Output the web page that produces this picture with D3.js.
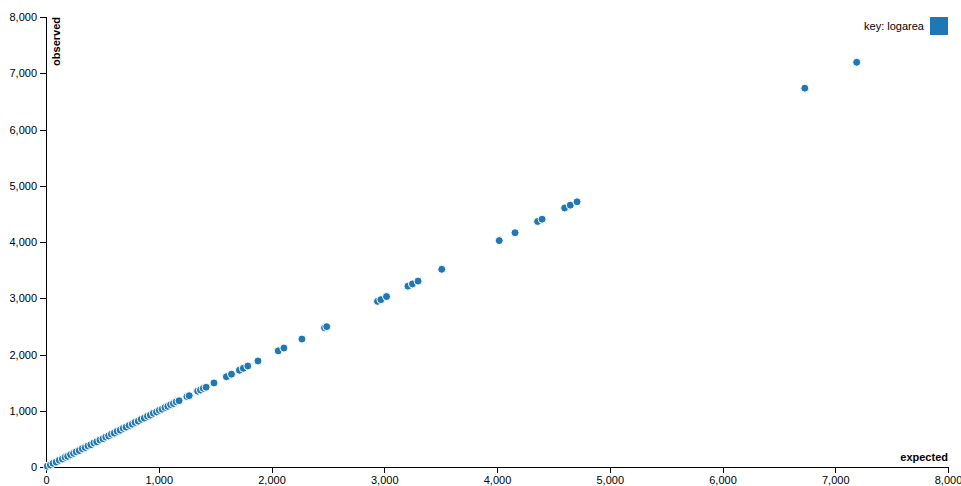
<!DOCTYPE html>
<html>
<head>
<meta charset="utf-8">
<script src="https://cdn.jsdelivr.net/npm/d3@7"></script>
<style>
  body { margin: 0; background: #fff; font: 11px "Liberation Sans", Arial, sans-serif; }
  .axis path, .axis line { fill: none; stroke: #000; shape-rendering: crispEdges; }
  .axis text { font: 11px "Liberation Sans", Arial, sans-serif; fill: #000; }
  .axis text.label { font-weight: bold; }
  .dot { stroke: #fff; stroke-width: 1; }
</style>
</head>
<body>
<svg id="chart" width="961" height="486"></svg>
<script>
// expected vs observed counts, one point per record
const expected = [
  12, 38, 62, 90, 118, 145, 170, 192, 218, 245, 268, 295, 322, 348, 372, 398,
  425, 450, 478, 505, 530, 555, 580, 605, 632, 658, 685, 710, 738, 765, 790,
  818, 845, 872, 900, 925, 952, 980, 1005, 1030, 1055, 1080, 1105, 1130, 1155,
  1180, 1250, 1270, 1345, 1370, 1395, 1420, 1490, 1600, 1645, 1715, 1750, 1790,
  1880, 2060, 2110, 2270, 2470, 2490, 2940, 2970, 3020, 3210, 3250, 3300, 3510,
  4020, 4160, 4360, 4400, 4600, 4650, 4710, 6730, 7190
];
const observed = [
  15, 36, 65, 88, 120, 142, 172, 190, 220, 243, 270, 292, 325, 346, 375, 396,
  428, 448, 480, 502, 532, 553, 583, 602, 635, 655, 688, 708, 740, 762, 793,
  815, 848, 870, 902, 922, 955, 978, 1008, 1028, 1058, 1078, 1108, 1128, 1158,
  1178, 1252, 1268, 1348, 1368, 1398, 1418, 1495, 1605, 1650, 1720, 1755, 1795,
  1885, 2065, 2115, 2275, 2475, 2495, 2945, 2975, 3030, 3215, 3255, 3305, 3515,
  4025, 4165, 4365, 4405, 4605, 4655, 4715, 6735, 7195
];
const seriesKeys = ["logarea"];
const tickValues = [0, 1000, 2000, 3000, 4000, 5000, 6000, 7000, 8000];

const margin = { top: 17, right: 13, bottom: 19, left: 46 };
const svg = d3.select("#chart");
const width = +svg.attr("width") - margin.left - margin.right;
const height = +svg.attr("height") - margin.top - margin.bottom;
const g = svg.append("g").attr("transform", `translate(${margin.left},${margin.top})`);

const points = expected.map((e, i) => ({ expected: e, observed: observed[i], key: seriesKeys[0] }));

const x = d3.scaleLinear().domain(d3.extent(tickValues)).range([0, width]);
const y = d3.scaleLinear().domain(d3.extent(tickValues)).range([height, 0]);
const color = d3.scaleOrdinal().domain(seriesKeys).range(["#1f77b4"]);

g.append("g")
  .attr("class", "axis x")
  .attr("transform", `translate(0,${height})`)
  .call(d3.axisBottom(x).tickValues(tickValues).tickFormat(d3.format(",")))
  .call(a => a.append("text")
    .attr("class", "label")
    .attr("x", width)
    .attr("y", -6)
    .style("text-anchor", "end")
    .text("expected"));

g.append("g")
  .attr("class", "axis y")
  .call(d3.axisLeft(y).tickValues(tickValues).tickFormat(d3.format(",")))
  .call(a => a.append("text")
    .attr("class", "label")
    .attr("transform", "rotate(-90)")
    .attr("y", 6)
    .attr("dy", ".71em")
    .style("text-anchor", "end")
    .text("observed"));

g.selectAll(".dot")
  .data(points)
  .join("circle")
  .attr("class", "dot")
  .attr("r", 4)
  .attr("cx", d => x(d.expected))
  .attr("cy", d => y(d.observed))
  .attr("fill", d => color(d.key));

const legend = g.selectAll(".legend")
  .data(color.domain())
  .join("g")
  .attr("class", "legend")
  .attr("transform", (d, i) => `translate(0,${i * 20})`);

legend.append("rect")
  .attr("x", width - 18)
  .attr("width", 18)
  .attr("height", 18)
  .attr("fill", color);

legend.append("text")
  .attr("x", width - 24)
  .attr("y", 9)
  .attr("dy", ".35em")
  .style("text-anchor", "end")
  .text(d => "key: " + d);
</script>
</body>
</html>
